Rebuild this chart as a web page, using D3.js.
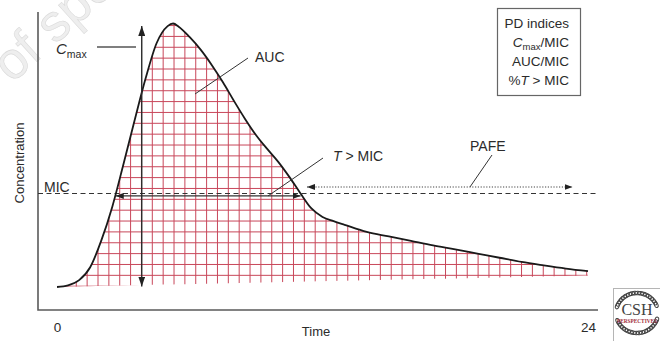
<!DOCTYPE html>
<html><head><meta charset="utf-8">
<script src="https://cdn.jsdelivr.net/npm/d3@7"></script>
<style>html,body{margin:0;padding:0;background:#fff;overflow:hidden}</style>
</head><body>
<svg id="c" width="660" height="341"></svg>
<script>
// ---- data ----
const times = [0,0.5,1,1.5,2,2.5,3,3.5,4,4.5,5,5.25,5.5,6,6.5,7,7.5,8,8.5,9,9.5,10,10.5,11,11.5,12,12.5,13,14,15,16,17,18,19,20,21,22,23,24];
const conc  = [0,0.6,2.6,7.5,17.6,30.5,46.5,63,79,92.5,99,100,98.8,94.8,90,84.2,77.7,70.6,63.8,57.6,52.4,47.5,41.8,35.6,29.8,26.6,25,23.6,20.9,19.2,17.5,15.8,14.3,12.7,11.1,9.5,8.2,7,6];
const micValue = 35.5;
const xTicks = [0, 24];
const xTickLabels = ["0", "24"];
const cmaxArrowTime = 3.83;
const pafeRange = [11.3, 23.3];
const pdIndices = ["PD indices", "Cmax/MIC", "AUC/MIC", "%T > MIC"];

const data = times.map((t,i)=>({t, c: conc[i]}));
const svg = d3.select("#c");
const FONT = "Liberation Sans, Arial, Helvetica, sans-serif";
const INK = "#2b2b2b";

const x = d3.scaleLinear().domain([0,24]).range([57,588]);
const y = d3.scaleLinear().domain([0,100]).range([287,23.5]);

// watermark
svg.append("text").attr("transform","translate(12,84) rotate(-42)")
  .attr("font-family",FONT).attr("font-size",52).attr("fill","#eeeeee")
  .attr("stroke","#dadada").attr("stroke-width",0.6).text("of spe");

// markers
const defs = svg.append("defs");
function marker(id, len, wid, col){
  defs.append("marker").attr("id",id).attr("markerUnits","userSpaceOnUse")
    .attr("markerWidth",len).attr("markerHeight",wid).attr("refX",len).attr("refY",wid/2)
    .attr("orient","auto-start-reverse")
    .append("path").attr("d",`M0,0L${len},${wid/2}L0,${wid}Z`).attr("fill",col);
}
marker("ahBig",10,7,"#222");
marker("ahMid",8,6,"#222");

// hatch region clip
const floorY = t => y(0) - 11.5 * t/24;
const area = d3.area().x(d=>x(d.t)).y0(d=>floorY(d.t)).y1(d=>y(d.c)).curve(d3.curveMonotoneX);
defs.append("clipPath").attr("id","under").append("path").attr("d",area(data));

const hatch = svg.append("g").attr("clip-path","url(#under)")
  .attr("stroke","#c8475a").attr("stroke-width",1);
const step = 10.86;
for(let px = 586.7; px > 50; px -= step)
  hatch.append("line").attr("x1",px).attr("x2",px).attr("y1",10).attr("y2",300);
for(let py = 286.2; py > 15; py -= step)
  hatch.append("line").attr("x1",40).attr("x2",600).attr("y1",py).attr("y2",py);

// axes frame
svg.append("path").attr("d","M38,12V310H598").attr("fill","none")
  .attr("stroke","#5a5a5a").attr("stroke-width",1.6);

const xAxis = svg.append("g").attr("transform","translate(0,310)")
  .call(d3.axisBottom(x).tickValues(xTicks).tickFormat((d,i)=>xTickLabels[i]).tickSize(0).tickPadding(12));
xAxis.select(".domain").remove();
xAxis.selectAll("text").attr("font-family",FONT).attr("font-size",13.5).attr("fill",INK);

svg.append("text").attr("x",316).attr("y",336).attr("text-anchor","middle")
  .attr("font-family",FONT).attr("font-size",13).attr("fill",INK).text("Time");
svg.append("text").attr("transform","translate(24,163) rotate(-90)").attr("text-anchor","middle")
  .attr("font-family",FONT).attr("font-size",13).attr("fill",INK).text("Concentration");

// MIC dashed line
svg.append("line").attr("x1",38).attr("x2",597).attr("y1",y(micValue)).attr("y2",y(micValue))
  .attr("stroke","#333").attr("stroke-width",1.1).attr("stroke-dasharray","5,3.5");
svg.append("text").attr("x",44).attr("y",y(micValue)-1.5).attr("font-family",FONT)
  .attr("font-size",14).attr("fill",INK).text("MIC");

// curve
svg.append("path").attr("d",d3.line().x(d=>x(d.t)).y(d=>y(d.c)).curve(d3.curveMonotoneX)(data))
  .attr("fill","none").attr("stroke","#1a1a1a").attr("stroke-width",1.8);

// MIC crossings
function crossings(){
  const res=[];
  for(let i=1;i<data.length;i++){
    const a=data[i-1], b=data[i];
    if((a.c-micValue)*(b.c-micValue)<0){
      res.push(a.t + (micValue-a.c)/(b.c-a.c)*(b.t-a.t));
    }
  }
  return res;
}
const cr = crossings();

// T > MIC arrow
svg.append("line").attr("x1",x(cr[0])).attr("x2",x(cr[1])).attr("y1",y(micValue)+2.5).attr("y2",y(micValue)+2.5)
  .attr("stroke","#333").attr("stroke-width",1.3)
  .attr("marker-start","url(#ahMid)").attr("marker-end","url(#ahMid)");

// Cmax vertical arrow
const cmax = d3.max(conc);
svg.append("line").attr("x1",x(cmaxArrowTime)).attr("x2",x(cmaxArrowTime))
  .attr("y1",y(0)-0.5).attr("y2",y(cmax)+2.5)
  .attr("stroke","#2a2a2a").attr("stroke-width",1.4)
  .attr("marker-start","url(#ahBig)").attr("marker-end","url(#ahBig)");

// PAFE dotted arrow
svg.append("line").attr("x1",x(pafeRange[0])).attr("x2",x(pafeRange[1]))
  .attr("y1",y(micValue)-6.5).attr("y2",y(micValue)-6.5)
  .attr("stroke","#444").attr("stroke-width",1.1).attr("stroke-dasharray","1.2,1.6")
  .attr("marker-start","url(#ahMid)").attr("marker-end","url(#ahMid)");

// Cmax label + leader
const cm = svg.append("text").attr("x",56).attr("y",54).attr("font-family",FONT).attr("font-size",15).attr("fill",INK);
cm.append("tspan").attr("font-style","italic").text("C");
cm.append("tspan").attr("font-size",10.5).attr("dy",3.5).text("max");
svg.append("line").attr("x1",97).attr("x2",136).attr("y1",47).attr("y2",47).attr("stroke","#555").attr("stroke-width",1.4);

// AUC label + leader
svg.append("text").attr("x",255).attr("y",62).attr("font-family",FONT).attr("font-size",14).attr("fill",INK).text("AUC");
svg.append("line").attr("x1",248).attr("y1",58).attr("x2",195).attr("y2",94).attr("stroke","#333").attr("stroke-width",1);

// T > MIC label + leader
const tm = svg.append("text").attr("x",333).attr("y",161).attr("font-family",FONT).attr("font-size",14).attr("fill",INK);
tm.append("tspan").attr("font-style","italic").text("T");
tm.append("tspan").text(" > MIC");
svg.append("line").attr("x1",323).attr("y1",158).attr("x2",268).attr("y2",y(micValue)+2.5).attr("stroke","#333").attr("stroke-width",1);

// PAFE label + leader
svg.append("text").attr("x",470).attr("y",151).attr("font-family",FONT).attr("font-size",14).attr("fill",INK).text("PAFE");
svg.append("line").attr("x1",492).attr("y1",155).attr("x2",470).attr("y2",y(micValue)-6.5).attr("stroke","#333").attr("stroke-width",1);

// PD indices box
svg.append("rect").attr("x",497.5).attr("y",8.5).attr("width",83).attr("height",87)
  .attr("fill","#fff").attr("stroke","#666").attr("stroke-width",1.2);
const bx = svg.append("g").attr("font-family",FONT).attr("font-size",13.5).attr("fill",INK).attr("text-anchor","end");
const RX = 569;
bx.append("text").attr("x",RX).attr("y",28).text(pdIndices[0]);
const l2 = bx.append("text").attr("x",RX).attr("y",47);
l2.append("tspan").attr("font-style","italic").text("C");
l2.append("tspan").attr("font-size",9.5).attr("dy",3).text("max");
l2.append("tspan").attr("dy",-3).text("/MIC");
bx.append("text").attr("x",RX).attr("y",66).text(pdIndices[2]);
const l4 = bx.append("text").attr("x",RX).attr("y",85);
l4.append("tspan").text("%");
l4.append("tspan").attr("font-style","italic").text("T");
l4.append("tspan").text(" > MIC");

// CSH logo
const lg = svg.append("g");
lg.append("rect").attr("x",613.5).attr("y",288.5).attr("width",52).attr("height",60).attr("fill","#fff").attr("stroke","#b5b5b5");
const cx0=637, cy0=313;
[[200,340],[20,160]].forEach(([a0,a1])=>{
  for(let a=a0;a<=a1;a+=8){
    const r=a*Math.PI/180;
    const ex=cx0+21*Math.cos(r), ey=cy0+20*Math.sin(r);
    lg.append("ellipse").attr("cx",ex).attr("cy",ey)
      .attr("rx",2.8).attr("ry",1.8).attr("transform",`rotate(${a+90},${ex},${ey})`)
      .attr("fill","none").attr("stroke","#444").attr("stroke-width",1);
  }
});
lg.append("text").attr("x",cx0).attr("y",315).attr("text-anchor","middle").attr("font-family","Liberation Serif, serif")
  .attr("font-size",16).attr("fill","#444").text("CSH");
lg.append("text").attr("x",cx0).attr("y",322.5).attr("text-anchor","middle").attr("font-family","Liberation Serif, serif")
  .attr("font-size",5.3).attr("font-weight","bold").attr("fill","#a33040").text("PERSPECTIVES");
</script>
</body></html>
